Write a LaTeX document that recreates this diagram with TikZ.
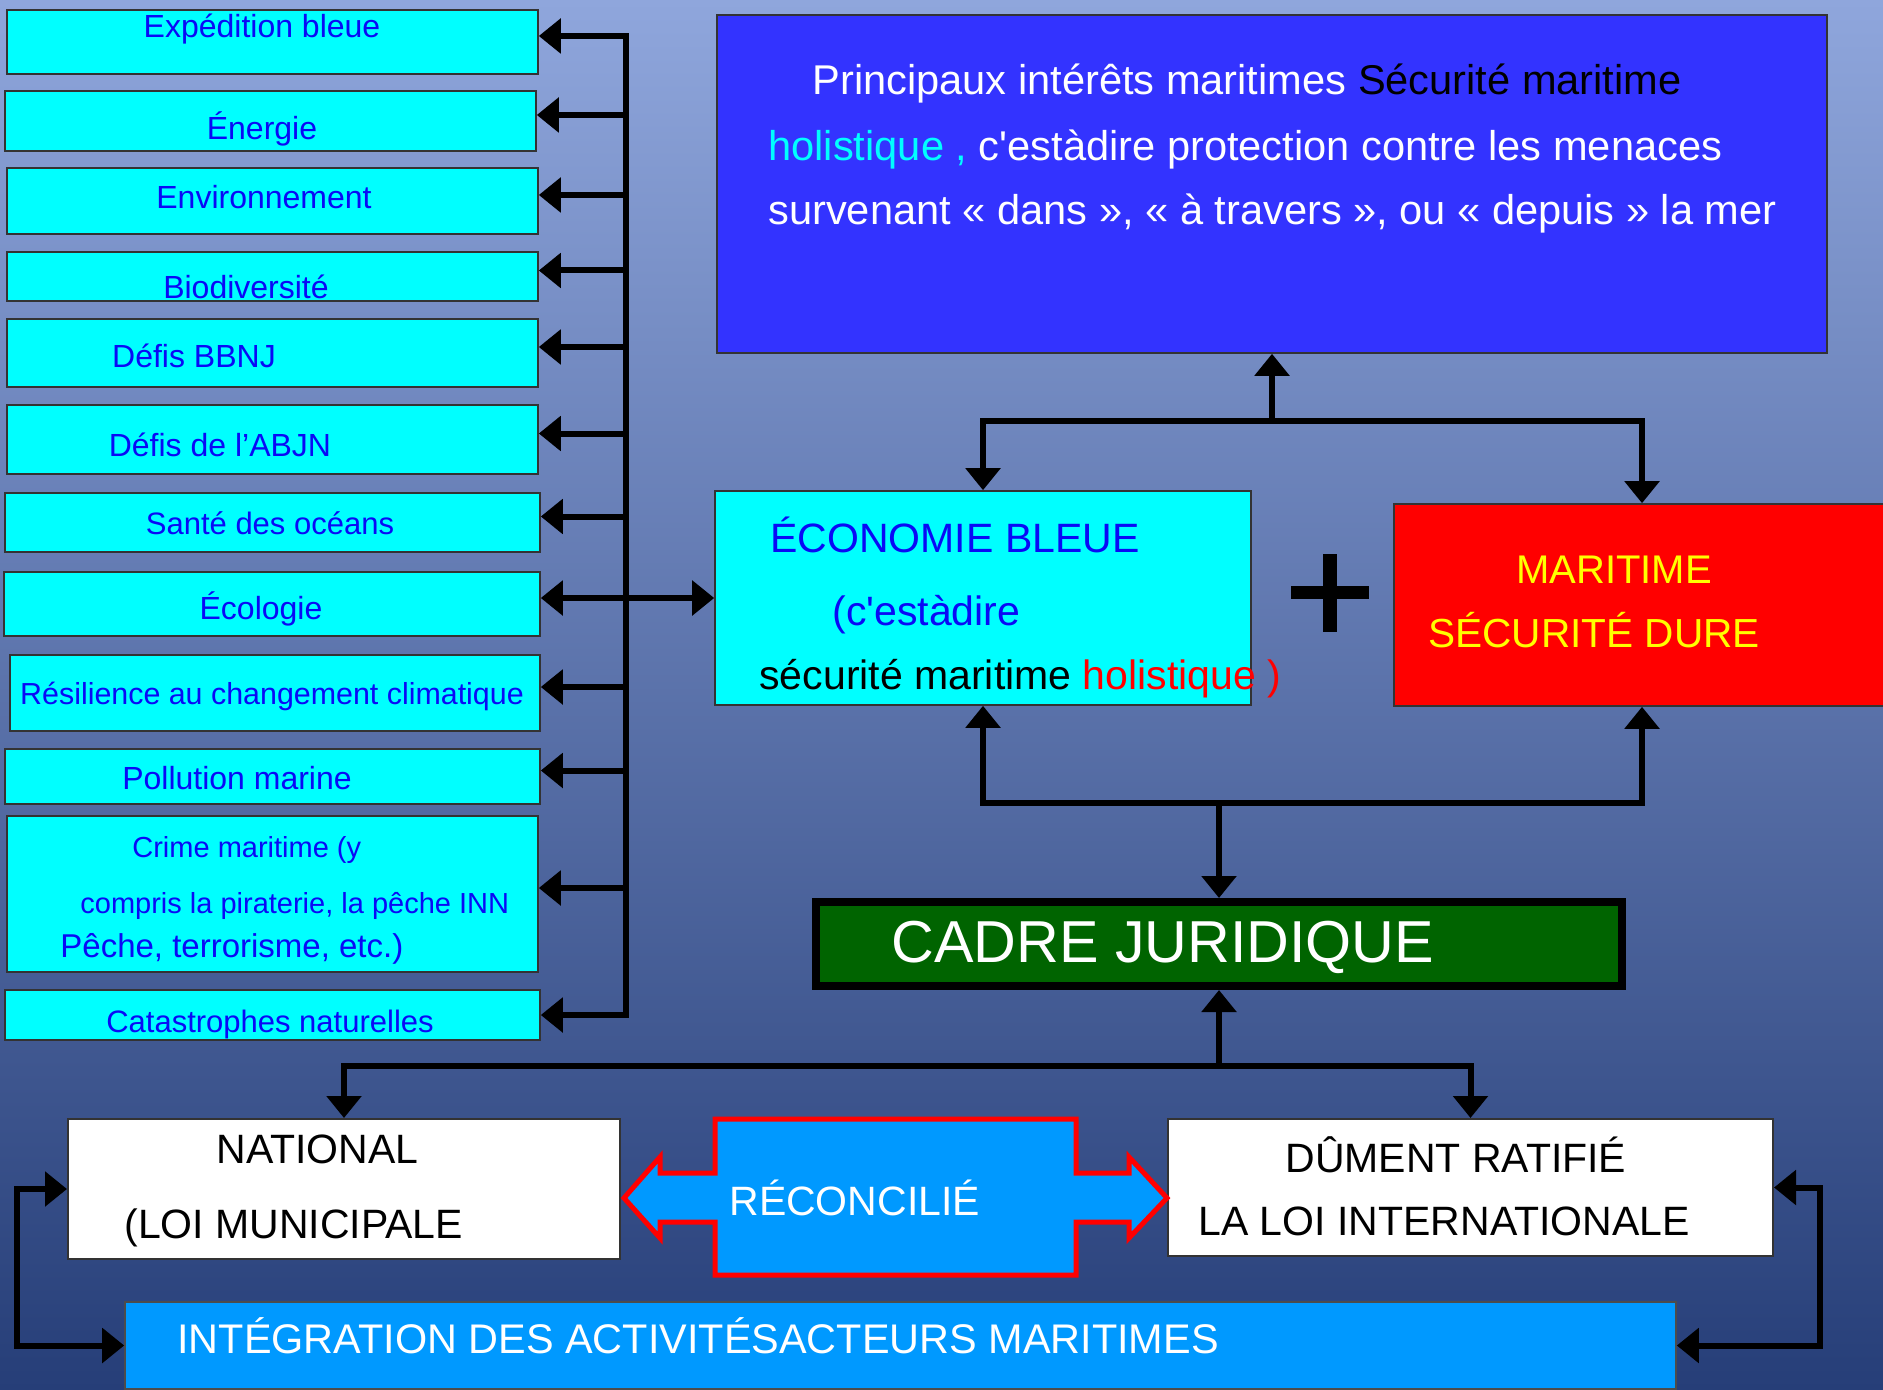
\documentclass[tikz,border=0pt]{standalone}
\usepackage{fontspec}
\setmainfont{Liberation Sans}[Ligatures=TeXOff]
\usetikzlibrary{arrows.meta,positioning,fit}
\definecolor{bgtop}{RGB}{143,166,220}
\definecolor{bgmid}{RGB}{82,120,198}
\definecolor{bgbot}{RGB}{38,62,120}
\definecolor{boxcyan}{RGB}{0,255,255}
\definecolor{txtblue}{RGB}{10,10,245}
\definecolor{topblue}{RGB}{51,51,255}
\definecolor{skyblue}{RGB}{0,153,255}
\definecolor{lawgreen}{RGB}{0,100,0}
\definecolor{hardred}{RGB}{255,0,0}
\definecolor{hardyellow}{RGB}{255,255,0}

\begin{document}
\begin{tikzpicture}
[x=0.5pt, y=-0.5pt,
% STYLES
every node/.style={inner sep=0pt},
% boxes of the left column
leftbox/.style={rectangle, draw=black!80, line width=0.8pt, fill=boxcyan},
lefttext/.style={text=txtblue, font=\fontsize{16}{19}\selectfont, anchor=base},
% big boxes on the right
bluebox/.style={rectangle, draw=black!80, line width=0.8pt, fill=topblue},
ecobox/.style={rectangle, draw=black!80, line width=0.8pt, fill=boxcyan},
redbox/.style={rectangle, draw=black!80, line width=0.8pt, fill=hardred},
cadrebox/.style={rectangle, draw=black, line width=4pt, fill=lawgreen},
lawbox/.style={rectangle, draw=black!80, line width=1pt, fill=white},
intbox/.style={rectangle, draw=black!70, line width=0.8pt, fill=skyblue},
bigtext/.style={font=\fontsize{20.5}{24}\selectfont, anchor=base west},
toptext/.style={anchor=base west, text=white, font=\fontsize{20.8}{24}\selectfont},
% connectors
bar/.style={line width=3pt},
arr/.style={line width=3pt, -{Triangle[length=11pt,width=17pt]}},
biarr/.style={line width=3pt, {Triangle[length=11pt,width=17pt]}-{Triangle[length=11pt,width=17pt]}}]

\useasboundingbox (0,0) rectangle (1883,1390);
\shade[top color=bgtop, middle color=bgmid, bottom color=bgbot] (0,0) rectangle (1883,1390);

% Draw left column
\node [leftbox, fit={(7,10) (538,74)}] (b1) {};
\node [leftbox, fit={(5,91) (536,151)}] (b2) {};
\node [leftbox, fit={(7,168) (538,234)}] (b3) {};
\node [leftbox, fit={(7,252) (538,301)}] (b4) {};
\node [leftbox, fit={(7,319) (538,387)}] (b5) {};
\node [leftbox, fit={(7,405) (538,474)}] (b6) {};
\node [leftbox, fit={(5,493) (540,552)}] (b7) {};
\node [leftbox, fit={(4,572) (540,636)}] (b8) {};
\node [leftbox, fit={(10,655) (540,731)}] (b9) {};
\node [leftbox, fit={(5,749) (540,804)}] (b10) {};
\node [leftbox, fit={(7,816) (538,972)}] (b11) {};
\node [leftbox, fit={(5,990) (540,1040)}] (b12) {};

\node [lefttext] (t1) at (262,38) {Expédition bleue};
\node [lefttext] (t2) at (262,140) {Énergie};
\node [lefttext] (t3) at (264,209) {Environnement};
\node [lefttext] (t4) at (246,299) {Biodiversité};
\node [lefttext] (t5) at (194,367) {Défis BBNJ};
\node [lefttext] (t6) at (220,456) {Défis de l’ABJN};
\node [lefttext, font=\fontsize{15.5}{19}\selectfont] (t7) at (270,534) {Santé des océans};
\node [lefttext] (t8) at (261,619) {Écologie};
\node [lefttext, font=\fontsize{15.2}{19}\selectfont] (t9) at (272,704) {Résilience au changement climatique};
\node [lefttext] (t10) at (237,789) {Pollution marine};
\node [lefttext, anchor=base west, font=\fontsize{14.5}{17}\selectfont] (t11a) at (132,857) {Crime maritime (y};
\node [lefttext, anchor=base west, font=\fontsize{14.5}{17}\selectfont] (t11b) at (80,913) {compris la piraterie, la pêche INN};
\node [lefttext, anchor=base west, font=\fontsize{16.5}{19}\selectfont] (t11c) at (60,957) {Pêche, terrorisme, etc.)};
\node [lefttext, font=\fontsize{15.5}{19}\selectfont] (t12) at (270,1032) {Catastrophes naturelles};

% Draw right part
\node [bluebox, fit={(717,15) (1827,353)}] (interets) {};
\node [ecobox, fit={(715,491) (1251,705)}] (eco) {};
\node [redbox, fit={(1394,504) (1890,706)}] (dure) {};
\node [cadrebox, fit={(816,902) (1622,986)}] (cadre) {};
\node [lawbox, fit={(68,1119) (620,1259)}] (national) {};
\node [lawbox, fit={(1168,1119) (1773,1256)}] (ratifie) {};
\node [intbox, fit={(125,1302) (1676,1389)}] (integration) {};

% double arrow in the middle
\filldraw [fill=skyblue, draw=hardred, line width=2.5pt, line join=miter]
(715,1119) -- (1076,1119) -- (1076,1173) -- (1129,1173) -- (1129,1157) -- (1167,1198)
-- (1129,1238) -- (1129,1222) -- (1076,1222) -- (1076,1275) -- (715,1275) -- (715,1222)
-- (660,1222) -- (660,1238) -- (624,1198) -- (660,1157) -- (660,1173) -- (715,1173) -- cycle;

% plus sign
\fill (1291,586) rectangle (1369,599);
\fill (1323,554) rectangle (1337,632);

%%%%%%%%%%%%%%%
% Texts of the right part
\node [toptext] (l1) at (812,95)
{Principaux intérêts maritimes \textcolor{black}{Sécurité maritime}};
\node [toptext] (l2) at (768,161)
{\textcolor{boxcyan}{holistique ,} c'estàdire protection contre les menaces};
\node [toptext] (l3) at (768,225)
{survenant « dans », « à travers », ou « depuis » la mer};

\node [bigtext, text=txtblue] (e1) at (770,552) {ÉCONOMIE BLEUE};
\node [bigtext, text=txtblue] (e2) at (832,625) {(c'estàdire};
\node [bigtext, text=black] (e3) at (759,689) {sécurité maritime \textcolor{hardred}{holistique )}};

\node [bigtext, text=hardyellow, font=\fontsize{20}{24}\selectfont] (r1) at (1516,583) {MARITIME};
\node [bigtext, text=hardyellow, font=\fontsize{20.3}{24}\selectfont] (r2) at (1428,647) {SÉCURITÉ DURE};

\node [anchor=base west, text=white, font=\fontsize{29.6}{34}\selectfont] (c1) at (891,962) {CADRE JURIDIQUE};

\node [bigtext] (n1) at (216,1163) {NATIONAL};
\node [bigtext] (n2) at (124,1238) {(LOI MUNICIPALE};
\node [bigtext] (d1) at (1285,1172) {DÛMENT RATIFIÉ};
\node [bigtext] (d2) at (1198,1235) {LA LOI INTERNATIONALE};
\node [bigtext, text=white] (rec) at (729,1215) {RÉCONCILIÉ};
\node [bigtext, text=white, font=\fontsize{20.7}{24}\selectfont] (i1) at (177,1353) {INTÉGRATION DES ACTIVITÉSACTEURS MARITIMES};
%%%%%%%%%%%%%%%

% Draw the links
\coordinate (bus) at (626,0);
\coordinate (j1) at (1272,421);
\coordinate (j2) at (1219,803);
\coordinate (j3) at (1219,1066);

\draw [bar, line cap=rect] ([yshift=3pt]b1.east -| bus) -- (b12.east -| bus);
\foreach \b/\s in {b1/3,b2/3,b3/3,b4/3,b5/3,b6/3,b7/3,b8/3,b9/3,b10/3,b11/3,b12/0}
  \draw [arr] ([yshift=\s pt]\b.east -| bus) -- ([yshift=\s pt]\b.east);
\draw [arr] (bus |- eco.west) -- (eco.west);

\draw [arr] (j1) -- (interets.south);
\draw [arr] (j1) -| (eco.north);
\draw [arr] (j1) -| (dure.north);

\draw [arr] (j2) -| (eco.south);
\draw [arr] (j2) -| (dure.south);
\draw [arr] (j2) -- (cadre.north);

\draw [arr] (j3) -- (cadre.south);
\draw [arr] (j3) -| (national.north);
\draw [arr] (j3) -| (ratifie.north);

\draw [biarr] (national.west) -- ++(-50,0) |- (integration.west);
\draw [biarr] (ratifie.east) -- ++(46,0) |- (integration.east);

\end{tikzpicture}
\end{document}
